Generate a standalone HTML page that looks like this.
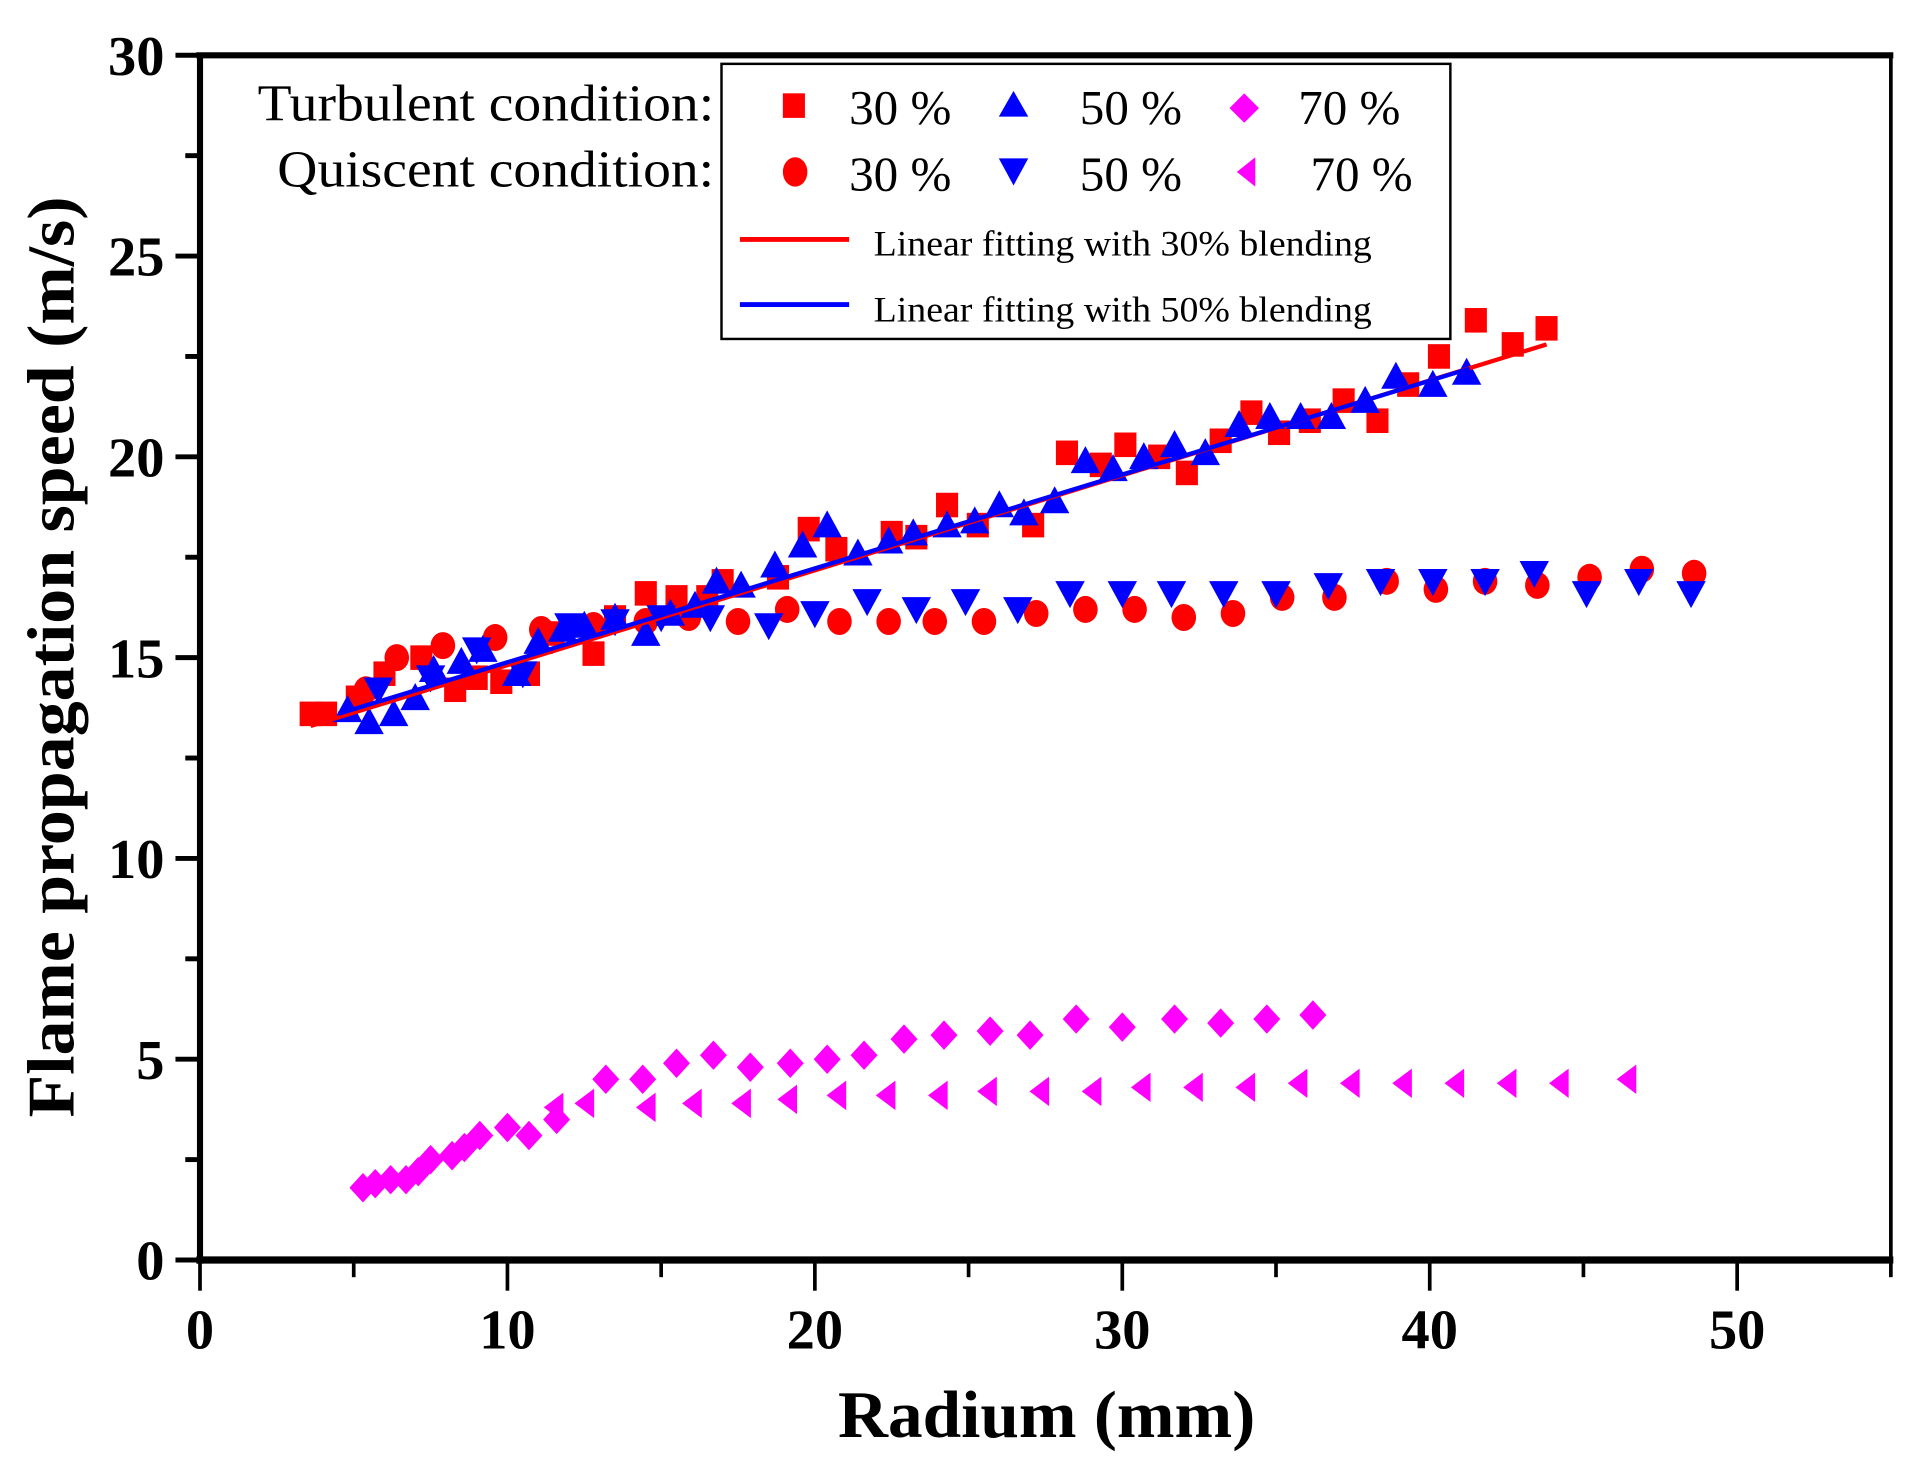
<!DOCTYPE html>
<html><head><meta charset="utf-8"><style>
html,body{margin:0;padding:0;background:#fff;}
svg{display:block;}
text{font-family:"Liberation Serif",serif;}
</style></head><body>
<svg id="chart" width="1924" height="1470" viewBox="0 0 1568 1197" preserveAspectRatio="none" xmlns="http://www.w3.org/2000/svg">
<g id="axes"></g>
<g id="marks"></g>
<g id="legend">
<rect x="588" y="52" width="594" height="224" fill="#fff" stroke="#000" stroke-width="2"/>
<text x="582" y="98" font-size="42" text-anchor="end" textLength="372" lengthAdjust="spacingAndGlyphs">Turbulent condition:</text>
<text x="582" y="152" font-size="42" text-anchor="end" textLength="356" lengthAdjust="spacingAndGlyphs">Quiscent condition:</text>
<rect x="638" y="76" width="18" height="20" fill="#f00"/>
<text x="692" y="101" font-size="40">30 %</text>
<polygon points="826,74 838,95 814,95" fill="#00f"/>
<text x="880" y="101" font-size="40">50 %</text>
<polygon points="1014,76 1026,88 1014,100 1002,88" fill="#f0f"/>
<text x="1058" y="101" font-size="40">70 %</text>
<ellipse cx="648" cy="140" rx="10" ry="12" fill="#f00"/>
<text x="692" y="155" font-size="40">30 %</text>
<polygon points="814,129 838,129 826,151" fill="#00f"/>
<text x="880" y="155" font-size="40">50 %</text>
<polygon points="1023,128 1023,152 1008,140" fill="#f0f"/>
<text x="1068" y="155" font-size="40">70 %</text>
<line x1="603" y1="195" x2="692" y2="195" stroke="#f00" stroke-width="4"/>
<text x="712" y="208" font-size="29" textLength="406" lengthAdjust="spacingAndGlyphs">Linear fitting  with 30% blending</text>
<line x1="603" y1="248" x2="692" y2="248" stroke="#00f" stroke-width="4"/>
<text x="712" y="262" font-size="29" textLength="406" lengthAdjust="spacingAndGlyphs">Linear fitting  with 50% blending</text>
</g>
<text x="853" y="1170" font-size="54" font-weight="bold" text-anchor="middle" textLength="340" lengthAdjust="spacingAndGlyphs">Radium (mm)</text>
<text transform="translate(60,535) rotate(-90)" font-size="54" font-weight="bold" text-anchor="middle" textLength="750" lengthAdjust="spacingAndGlyphs">Flame propagation speed (m/s)</text>
</svg>
<script>
const turb30 = [[3.6,13.6],[4.1,13.6],[5.1,14.0],[6,14.6],[7.2,15],[8.3,14.2],[9,14.5],[9.8,14.4],[10.7,14.6],[11.5,15.6],[12.8,15.1],[13.5,16],[14.5,16.6],[15.5,16.5],[16.5,16.5],[17,16.9],[18.8,17],[19.8,18.2],[20.7,17.7],[22.5,18.1],[23.3,18],[24.3,18.8],[25.3,18.3],[27.1,18.3],[28.2,20.1],[29.3,19.8],[30.1,20.3],[31.2,20],[32.1,19.6],[33.2,20.4],[34.2,21.1],[35.1,20.6],[36.1,20.9],[37.2,21.4],[38.3,20.9],[39.3,21.8],[40.3,22.5],[41.5,23.4],[42.7,22.8],[43.8,23.2]];
const turb50 = [[4.8,13.7],[5.5,13.4],[6.3,13.6],[7,14],[7.6,14.7],[8.5,14.9],[9.2,15.2],[10.3,14.6],[11,15.4],[11.8,15.7],[12.5,15.8],[13.5,16],[14.5,15.6],[15.3,16.1],[16.1,16.3],[16.8,16.9],[17.6,16.8],[18.7,17.3],[19.6,17.8],[20.4,18.3],[21.4,17.6],[22.4,17.9],[23.2,18.1],[24.3,18.3],[25.2,18.4],[26,18.8],[26.8,18.6],[27.8,18.9],[28.8,19.9],[29.7,19.7],[30.7,20],[31.7,20.3],[32.7,20.1],[33.8,20.8],[34.8,21],[35.8,21],[36.8,21],[37.9,21.4],[38.9,22],[40.1,21.8],[41.2,22.1]];
const quis30 = [[5.4,14.2],[6.4,15],[7.9,15.3],[9.6,15.5],[11.1,15.7],[12.8,15.8],[14.5,15.9],[15.9,16],[17.5,15.9],[19.1,16.2],[20.8,15.9],[22.4,15.9],[23.9,15.9],[25.5,15.9],[27.2,16.1],[28.8,16.2],[30.4,16.2],[32,16],[33.6,16.1],[35.2,16.5],[36.9,16.5],[38.6,16.9],[40.2,16.7],[41.8,16.9],[43.5,16.8],[45.2,17],[46.9,17.2],[48.6,17.1]];
const quis50 = [[5.8,14.2],[7.5,14.5],[9,15.2],[10.5,14.6],[12,15.8],[13.5,15.9],[15,16],[16.6,16],[18.5,15.8],[20,16.1],[21.7,16.4],[23.3,16.2],[24.9,16.4],[26.6,16.2],[28.3,16.6],[30,16.6],[31.6,16.6],[33.3,16.6],[35,16.6],[36.7,16.8],[38.4,16.9],[40.1,16.9],[41.8,16.9],[43.4,17.1],[45.1,16.6],[46.8,16.9],[48.5,16.6]];
const turb70 = [[5.3,1.8],[5.7,1.9],[6.2,2],[6.7,2],[7.1,2.2],[7.5,2.5],[8.2,2.6],[8.6,2.8],[9.1,3.1],[10,3.3],[10.7,3.1],[11.6,3.5],[13.2,4.5],[14.4,4.5],[15.5,4.9],[16.7,5.1],[17.9,4.8],[19.2,4.9],[20.4,5],[21.6,5.1],[22.9,5.5],[24.2,5.6],[25.7,5.7],[27,5.6],[28.5,6],[30,5.8],[31.7,6],[33.2,5.9],[34.7,6],[36.2,6.1]];
const quis70 = [[11.5,3.8],[12.5,3.9],[14.5,3.8],[16,3.9],[17.6,3.9],[19.1,4],[20.7,4.1],[22.3,4.1],[24,4.1],[25.6,4.2],[27.3,4.2],[29,4.2],[30.6,4.3],[32.3,4.3],[34,4.3],[35.7,4.4],[37.4,4.4],[39.1,4.4],[40.8,4.4],[42.5,4.4],[44.2,4.4],[46.4,4.5]];
const fit30 = [[3.6,13.3],[43.8,22.8]];
const fit50 = [[4.5,13.6],[41.3,22.2]];
const xTicks = [0,10,20,30,40,50];
const yTicks = [0,5,10,15,20,25,30];

const NS="http://www.w3.org/2000/svg";
const X0=163,X1=1541,Y0=1026,Y1=45,XMAX=55,YMAX=30;
function sx(v){return X0+(X1-X0)*v/XMAX;}
function sy(v){return Y0-(Y0-Y1)*v/YMAX;}
function mk(tag,attrs,parent){const e=document.createElementNS(NS,tag);for(const k in attrs)e.setAttribute(k,attrs[k]);parent.appendChild(e);return e;}
const axes=document.getElementById('axes'),marks=document.getElementById('marks');

let f=mk('rect',{x:X0,y:Y1,width:X1-X0,height:Y0-Y1,fill:'none',stroke:'#000','stroke-width':3},axes);


let la=mk('line',{x1:X0,y1:Y1-2,x2:X0,y2:Y0+3,stroke:'#000','stroke-width':5},axes);


let ba=mk('line',{x1:X0-3,y1:Y0,x2:X1+2,y2:Y0,stroke:'#000','stroke-width':6},axes);


let ta=mk('line',{x1:X0-3,y1:Y1,x2:X1+2,y2:Y1,stroke:'#000','stroke-width':5},axes);



for(let v=0;v<=XMAX;v+=5){
  const major=v%10===0;
  let t=mk('line',{x1:sx(v),y1:Y0,x2:sx(v),y2:Y0+(major?25:14),stroke:'#000','stroke-width':3},axes);
  
  
}
xTicks.forEach(v=>{
  let t=mk('text',{x:sx(v),y:1098,'font-size':46,'font-weight':'bold','text-anchor':'middle'},axes);
  t.textContent=v;
  
  
});
for(let v=0;v<=YMAX;v+=2.5){
  const major=v%5===0;
  let t=mk('line',{x1:X0-(major?20:12),y1:sy(v),x2:X0,y2:sy(v),stroke:'#000','stroke-width':4},axes);
  
  
}
yTicks.forEach(v=>{
  let t=mk('text',{x:134,y:sy(v)+16,'font-size':46,'font-weight':'bold','text-anchor':'end'},axes);
  t.textContent=v;
  
  
});

function shape(kind,x,y,color){
  const s=11;let e;
  if(kind==='square')e=mk('rect',{x:x-9,y:y-10,width:18,height:20,fill:color},marks);
  else if(kind==='circle')e=mk('ellipse',{cx:x,cy:y,rx:10,ry:11,fill:color},marks);
  else if(kind==='up')e=mk('polygon',{points:`${x},${y-12} ${x+12},${y+10} ${x-12},${y+10}`,fill:color},marks);
  else if(kind==='down')e=mk('polygon',{points:`${x-12},${y-10} ${x+12},${y-10} ${x},${y+12}`,fill:color},marks);
  else if(kind==='diamond')e=mk('polygon',{points:`${x},${y-12} ${x+s},${y} ${x},${y+12} ${x-s},${y}`,fill:color},marks);
  else e=mk('polygon',{points:`${x+8},${y-12} ${x+8},${y+12} ${x-8},${y}`,fill:color},marks);
  return e;
}
function drawSeries(data,kind,color,name){
  data.forEach(p=>{
    const e=shape(kind,sx(p[0]),sy(p[1]),color);
    
    
  });
}
drawSeries(turb30,'square','#f00','point-turbulent-30');
drawSeries(quis30,'circle','#f00','point-quiescent-30');
drawSeries(quis50,'down','#00f','point-quiescent-50');
drawSeries(turb50,'up','#00f','point-turbulent-50');
drawSeries(turb70,'diamond','#f0f','point-turbulent-70');
drawSeries(quis70,'left','#f0f','point-quiescent-70');
let l1=mk('line',{x1:sx(fit30[0][0]),y1:sy(fit30[0][1]),x2:sx(fit30[1][0]),y2:sy(fit30[1][1]),stroke:'#f00','stroke-width':3.5},marks);


let l2=mk('line',{x1:sx(fit50[0][0]),y1:sy(fit50[0][1]),x2:sx(fit50[1][0]),y2:sy(fit50[1][1]),stroke:'#00f','stroke-width':3.5},marks);


</script>
</body></html>
